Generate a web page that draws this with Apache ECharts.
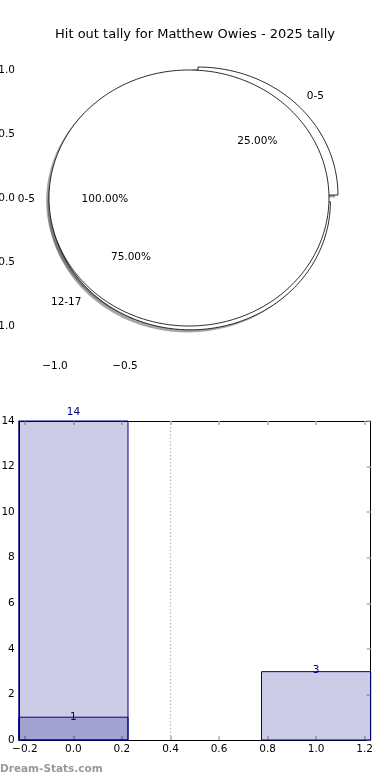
<!DOCTYPE html>
<html>
<head>
<meta charset="utf-8">
<script src="https://cdn.jsdelivr.net/npm/echarts@6/dist/echarts.min.js"></script>
<style>
html,body{margin:0;padding:0;background:#fff;}
#chart{width:390px;height:780px;}
</style>
</head>
<body>
<div id="chart"></div>
<script>
// ---------- data ----------
const titleText = 'Hit out tally for Matthew Owies - 2025 tally';
const watermarkText = 'Dream-Stats.com';

// pie drawn first (partly hidden): hit outs by range
const pieBackLabels = ['0-5', '12-17'];
const pieBackValues = [1, 3];
// pie drawn on top: totals
const pieFrontLabels = ['0-5'];
const pieFrontValues = [14];

// top panel tick values
const pieXTicks = [-1.0, -0.5];
const pieYTicks = [-1.0, -0.5, 0.0, 0.5, 1.0];

// bar panel
const barX = [0, 1];
const barBackValues = [14, null];
const barFrontValues = [1, 3];
const barXTicks = [-0.2, 0.0, 0.2, 0.4, 0.6, 0.8, 1.0, 1.2];
const dividerX = 0.4;

// ---------- style constants ----------
const FONT = 'DejaVu Sans';
const NAVY = '#000080';
const BAR_FILL = 'rgba(0,0,128,0.2)';
const BAR_HALF = 0.225;
const TICK_GRAY = '#b0b0b0';
const PIE_CENTER = [-0.043, 0];
const BACK_OFFSETS = [[0.064, 0.023], [0.01, -0.03]];
const SHADOW_OFFSET = [-0.02, -0.02];
const TXT = '10.5px "' + FONT + '"';
const TEXT_DY = 1;

function fmt(v, d) {
  const s = v.toFixed(d);
  return v < 0 ? '\u2212' + s.slice(1) : s;
}

function buildWedges(values, labels, offsets) {
  const total = values.reduce((a, b) => a + b, 0);
  let acc = 0;
  return values.map((v, i) => {
    const a1 = acc / total * 360;
    acc += v;
    const a2 = acc / total * 360;
    const off = offsets ? offsets[i] : [0, 0];
    return {
      a1, a2, label: labels[i],
      pct: (v / total * 100).toFixed(2) + '%',
      cx: PIE_CENTER[0] + off[0], cy: PIE_CENTER[1] + off[1]
    };
  });
}
const wedgesBack = buildWedges(pieBackValues, pieBackLabels, BACK_OFFSETS);
const wedgesFront = buildWedges(pieFrontValues, pieFrontLabels, null);

function wedgePoints(api, w, dx, dy) {
  const pts = [];
  const full = Math.abs(w.a2 - w.a1 - 360) < 1e-9;
  if (!full) pts.push(api.coord([w.cx + dx, w.cy + dy]));
  const steps = Math.max(8, Math.ceil(w.a2 - w.a1));
  for (let k = 0; k <= steps; k++) {
    const a = (w.a1 + (w.a2 - w.a1) * k / steps) * Math.PI / 180;
    pts.push(api.coord([w.cx + dx + Math.cos(a), w.cy + dy + Math.sin(a)]));
  }
  return pts;
}

function baseCustom(wedges, z, fn) {
  return {
    type: 'custom', xAxisIndex: 0, yAxisIndex: 0, z: z, silent: true,
    data: wedges.map((w, i) => [i, 0]),
    encode: { x: 0, y: 1 },
    renderItem: (params, api) => fn(wedges[params.dataIndex], api)
  };
}
function shadowSeries(wedges, z) {
  return baseCustom(wedges, z, (w, api) => ({ type: 'polygon',
    shape: { points: wedgePoints(api, w, SHADOW_OFFSET[0], SHADOW_OFFSET[1]) },
    style: { fill: 'rgba(77,77,77,0.5)', stroke: null } }));
}
function wedgeSeries(wedges, z) {
  return baseCustom(wedges, z, (w, api) => ({ type: 'polygon',
    shape: { points: wedgePoints(api, w, 0, 0) },
    style: { fill: '#ffffff', stroke: '#111', lineWidth: 0.9 } }));
}
function labelSeries(wedges, z) {
  return baseCustom(wedges, z, (w, api) => {
    const mid = (w.a1 + w.a2) / 2 * Math.PI / 180;
    const lp = api.coord([w.cx + 1.1 * Math.cos(mid), w.cy + 1.1 * Math.sin(mid)]);
    const pp = api.coord([w.cx + 0.6 * Math.cos(mid), w.cy + 0.6 * Math.sin(mid)]);
    const al = Math.cos(mid) > 0 ? 'left' : 'right';
    return { type: 'group', children: [
      { type: 'text', style: { x: lp[0], y: lp[1] + TEXT_DY, text: w.label, fill: '#000', font: TXT,
          align: al, textAlign: al, verticalAlign: 'middle', textVerticalAlign: 'middle' } },
      { type: 'text', style: { x: pp[0], y: pp[1] + TEXT_DY, text: w.pct, fill: '#000', font: TXT,
          align: 'center', textAlign: 'center', verticalAlign: 'middle', textVerticalAlign: 'middle' } }
    ] };
  });
}

function barSeries(values, z) {
  return {
    type: 'custom', xAxisIndex: 2, yAxisIndex: 2, z: z, silent: true,
    data: barX.map((x, i) => [x, values[i]]).filter(d => d[1] != null),
    encode: { x: 0, y: 1 },
    renderItem: (params, api) => {
      const x = api.value(0), v = api.value(1);
      const p1 = api.coord([x - BAR_HALF, v]);
      const p2 = api.coord([x + BAR_HALF, 0]);
      const lp = api.coord([x, v * 1.03]);
      return { type: 'group', children: [
        { type: 'rect', shape: { x: p1[0], y: p1[1], width: p2[0] - p1[0], height: p2[1] - p1[1] },
          style: { fill: BAR_FILL, stroke: NAVY, lineWidth: 1 } },
        { type: 'text', z2: 10, style: { x: lp[0], y: lp[1] + TEXT_DY, text: String(v), fill: NAVY, font: TXT,
            align: 'center', textAlign: 'center', verticalAlign: 'middle', textVerticalAlign: 'middle' } }
      ] };
    }
  };
}

const axisFont = { fontFamily: FONT, fontSize: 10.5, color: '#000' };
const grayTick = (len, inside, vals) => {
  const t = { show: true, inside: inside, length: len, lineStyle: { color: TICK_GRAY, width: 1.5 } };
  if (vals) t.customValues = vals;
  return t;
};
const blackLine = { show: true, onZero: false, lineStyle: { color: '#000', width: 1 } };

const option = {
  animation: false,
  backgroundColor: '#fff',
  title: {
    text: titleText, left: 'center', top: 23,
    textStyle: { fontFamily: FONT, fontSize: 13, fontWeight: 'normal', color: '#000' }
  },
  graphic: [{
    type: 'text', left: 0, top: 764,
    style: { text: watermarkText, fill: '#999', font: 'bold 10.5px "' + FONT + '"' }
  }],
  grid: [
    { left: 20, right: 20, top: 40.56, height: 314.88, outerBoundsMode: 'none', containLabel: false },
    { left: 18.8, right: 19.3, top: 421, bottom: 40, outerBoundsMode: 'none', containLabel: false }
  ],
  xAxis: [
    { gridIndex: 0, type: 'value', position: 'bottom', min: -1.25, max: 1.25,
      axisLine: { show: false }, splitLine: { show: false },
      axisTick: grayTick(4, false, pieXTicks),
      axisLabel: { customValues: pieXTicks, margin: 5, formatter: v => fmt(v, 1), ...axisFont } },
    { gridIndex: 0, type: 'value', position: 'top', min: -1.25, max: 1.25,
      axisLine: { show: false }, splitLine: { show: false },
      axisTick: grayTick(3, true, pieXTicks),
      axisLabel: { show: false } },
    { gridIndex: 1, type: 'value', position: 'bottom', min: -BAR_HALF, max: 1 + BAR_HALF,
      axisLine: blackLine, splitLine: { show: false },
      axisTick: grayTick(4, true, barXTicks),
      axisLabel: { customValues: barXTicks, margin: 4, formatter: v => fmt(v, 1), ...axisFont } },
    { gridIndex: 1, type: 'value', position: 'top', min: -BAR_HALF, max: 1 + BAR_HALF,
      axisLine: blackLine, splitLine: { show: false },
      axisTick: grayTick(4, true, barXTicks),
      axisLabel: { show: false } }
  ],
  yAxis: [
    { gridIndex: 0, type: 'value', position: 'left', min: -1.23, max: 1.23,
      axisLine: { show: false }, splitLine: { show: false },
      axisTick: grayTick(3, true, pieYTicks),
      axisLabel: { customValues: pieYTicks, margin: 5, formatter: v => fmt(v, 1), ...axisFont } },
    { gridIndex: 0, type: 'value', position: 'right', min: -1.23, max: 1.23,
      axisLine: { show: false }, splitLine: { show: false },
      axisTick: grayTick(3, true, pieYTicks),
      axisLabel: { show: false } },
    { gridIndex: 1, type: 'value', position: 'left', min: 0, max: 14, interval: 2,
      axisLine: blackLine, splitLine: { show: false },
      axisTick: { show: false },
      axisLabel: { margin: 4, ...axisFont } },
    { gridIndex: 1, type: 'value', position: 'right', min: 0, max: 14, interval: 2,
      axisLine: blackLine, splitLine: { show: false },
      axisTick: grayTick(4, true, null),
      axisLabel: { show: false } }
  ],
  series: [
    shadowSeries(wedgesBack, 1),
    shadowSeries(wedgesFront, 1),
    wedgeSeries(wedgesBack, 2),
    wedgeSeries(wedgesFront, 3),
    labelSeries(wedgesBack, 4),
    labelSeries(wedgesFront, 4),
    {
      type: 'line', xAxisIndex: 2, yAxisIndex: 2, data: [], silent: true, z: 1,
      markLine: { symbol: 'none', silent: true, label: { show: false },
        lineStyle: { color: '#bbbbbb', type: [1.5, 2], width: 1.3 },
        data: [{ xAxis: dividerX }] }
    },
    barSeries(barBackValues, 2),
    barSeries(barFrontValues, 3)
  ]
};

const chart = echarts.init(document.getElementById('chart'), null, { renderer: 'canvas' });
chart.setOption(option);
</script>
</body>
</html>
